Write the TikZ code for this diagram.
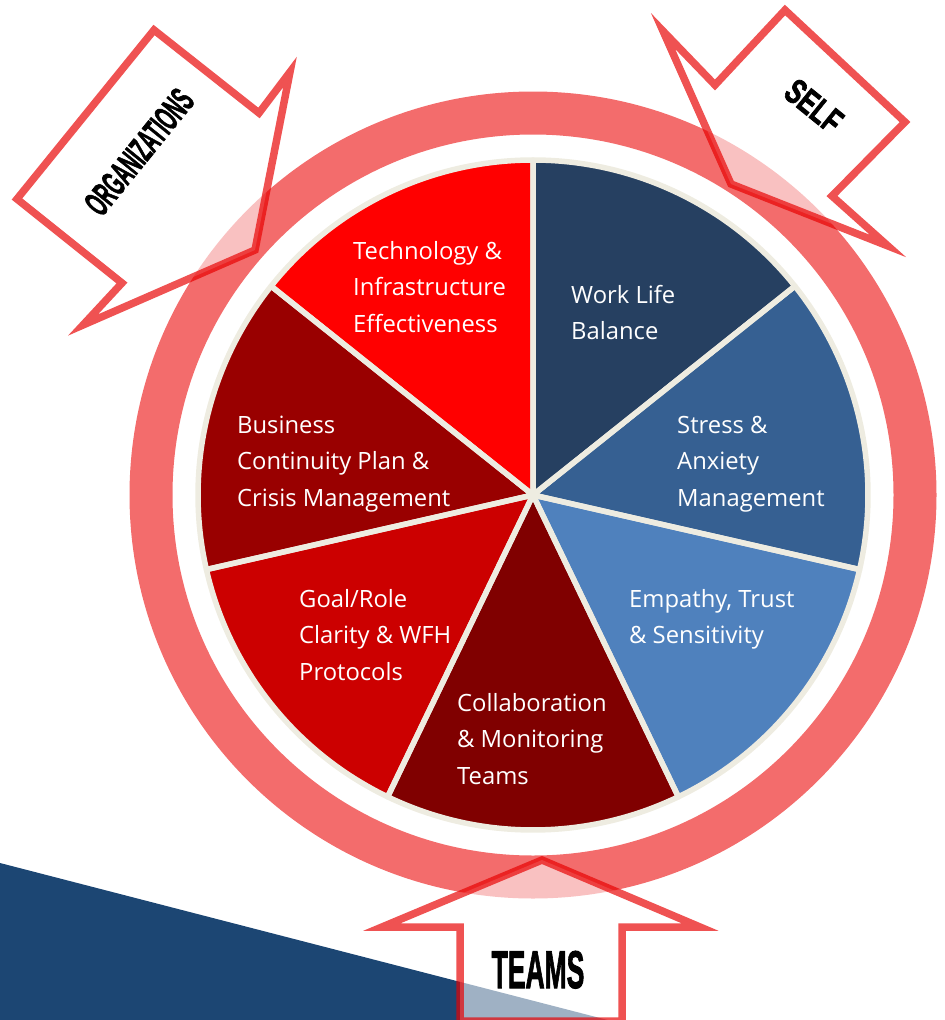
\documentclass[tikz,border=0pt]{standalone}
\usepackage{fontspec}
\setmainfont{Open Sans}
\newfontfamily\bannerfont{Liberation Sans}[BoldFeatures={FakeBold=2.2}]
\usetikzlibrary{calc}

\definecolor{ringred}{RGB}{243,108,108}
\definecolor{arrowred}{RGB}{232,0,0}
\definecolor{sepbeige}{RGB}{238,236,225}
\definecolor{navyslice}{RGB}{38,64,97}
\definecolor{steelslice}{RGB}{54,96,146}
\definecolor{skyslice}{RGB}{79,129,189}
\definecolor{maroonslice}{RGB}{128,0,0}
\definecolor{crimsonslice}{RGB}{204,0,0}
\definecolor{darkredslice}{RGB}{153,0,0}
\definecolor{brightslice}{RGB}{255,0,0}
\definecolor{cornerblue}{RGB}{28,70,115}

\tikzset{
  sliceedge/.style={draw=sepbeige, line width=5.5pt, line join=round},
  slicetext/.style={anchor=north west, inner sep=0pt, align=left, text=white,
    font=\fontsize{23.8}{36.5}\selectfont},
  callout/.style={fill=white, fill opacity=0.58, draw=arrowred, draw opacity=0.68,
    line width=7.5pt, line join=miter},
  banner/.style={inner sep=0pt, text=black,
    font=\bannerfont\bfseries\fontsize{#1}{#1}\selectfont},
}

\newcommand{\firstline}{\rule{0pt}{20pt}}

\begin{document}
\begin{tikzpicture}[x=1pt,y=-1pt]
  \useasboundingbox (0,0) rectangle (945,1020);
  \coordinate (ctr) at (533,495);

  % blue corner band
  \fill[cornerblue] (-5,861.7) -- (627,1025) -- (-5,1025) -- cycle;

  % outer ring
  \draw[ringred, line width=43pt] (ctr) circle[radius=382pt];

  % seven wedges, filled first, then outlined
  \foreach \a/\b/\c in {90/38.571/navyslice, 38.571/-12.857/steelslice,
      -12.857/-64.286/skyslice, -64.286/-115.714/maroonslice,
      -115.714/-167.143/crimsonslice, -167.143/-218.571/darkredslice,
      141.429/90/brightslice}{
    \fill[\c] (ctr) -- ($(ctr)+(\a:335pt)$) arc[start angle=\a, end angle=\b, radius=335pt] -- cycle;
  }
  \foreach \a/\b in {90/38.571, 38.571/-12.857, -12.857/-64.286, -64.286/-115.714,
      -115.714/-167.143, -167.143/-218.571, 141.429/90}{
    \draw[sliceedge] (ctr) -- ($(ctr)+(\a:335pt)$) arc[start angle=\a, end angle=\b, radius=335pt] -- cycle;
  }

  % wedge labels
  \node[slicetext] (tech) at (353,239) {\firstline Technology \&\\Infrastructure\\Effectiveness};
  \node[slicetext] (wlb) at (571,283) {\firstline Work Life\\Balance};
  \node[slicetext] (stress) at (677,413) {\firstline Stress \&\\Anxiety\\Management};
  \node[slicetext] (empathy) at (629,587) {\firstline Empathy, Trust\\\& Sensitivity};
  \node[slicetext] (collab) at (457,691) {\firstline Collaboration\\\& Monitoring\\Teams};
  \node[slicetext] (goal) at (299,587) {\firstline Goal/Role\\Clarity \& WFH\\Protocols};
  \node[slicetext] (bcp) at (237,413) {\firstline Business\\Continuity Plan \&\\Crisis Management};

  % callout arrows pointing at the ring
  \draw[callout] (154,30) -- (259,113) -- (290,72) -- (255,250) -- (83,325) -- (122,283) -- (17,199) -- cycle;
  \draw[callout] (785,10) -- (905,122) -- (832,196) -- (888,246) -- (731,184) -- (663,31) -- (715,85) -- cycle;
  \draw[callout] (542,860) -- (700,927) -- (622,927) -- (622,1021) -- (460,1021) -- (460,927) -- (382,927) -- cycle;

  % callout captions
  \node[banner=36, rotate=51] (orgtext) at (139,152) {\scalebox{0.5}[1]{ORGANIZATIONS}};
  \node[banner=35, rotate=-39] (selftext) at (814,106) {\scalebox{0.7}[1]{SELF}};
  \node[banner=53, anchor=base] (teamstext) at (538,988) {\scalebox{0.5}[1]{TEAMS}};
\end{tikzpicture}
\end{document}
